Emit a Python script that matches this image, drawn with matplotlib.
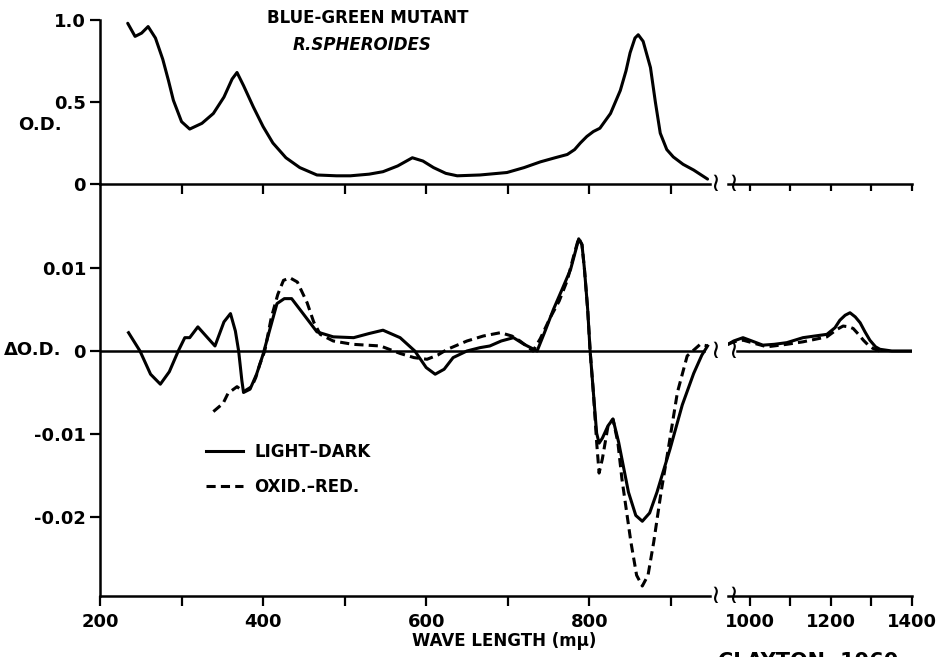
import matplotlib
matplotlib.use("Agg")
import matplotlib.pyplot as plt

# O.D. spectrum, blue-green mutant
od_wl = [234, 243, 251, 259, 268, 277, 284, 290, 300, 310, 325, 339, 352, 362, 368, 376, 388, 400,
         412, 428, 445, 466, 490, 507, 530, 547, 565, 583, 596, 609, 624, 638, 666, 699, 720, 740,
         758, 773, 782, 789, 797, 805, 813, 826, 838, 845, 850, 856, 860, 866, 875, 881, 887, 895,
         903, 915, 928, 945]
od = [0.98, 0.90, 0.92, 0.96, 0.89, 0.76, 0.63, 0.51, 0.38, 0.335, 0.37, 0.43, 0.53, 0.64, 0.68,
      0.60, 0.47, 0.35, 0.25, 0.16, 0.10, 0.055, 0.05, 0.05, 0.06, 0.075, 0.11, 0.16, 0.14, 0.10,
      0.065, 0.05, 0.055, 0.07, 0.10, 0.135, 0.16, 0.18, 0.21, 0.25, 0.29, 0.32, 0.34, 0.43, 0.57,
      0.69, 0.80, 0.89, 0.91, 0.87, 0.71, 0.50, 0.31, 0.21, 0.165, 0.12, 0.085, 0.03]

# difference spectra, visible / near-IR part
ld_wl = [235, 249, 262, 274, 285, 296, 304, 310, 320, 330, 341, 352, 360, 366, 370, 374, 376, 384,
         392, 400, 408, 417, 426, 435, 449, 466, 486, 511, 530, 547, 568, 586, 600, 611, 622, 633,
         650, 666, 678, 692, 707, 720, 736, 745, 756, 767, 777, 783, 787, 791, 794, 798, 801, 805,
         809, 812, 816, 823, 829, 836, 848, 857, 865, 874, 883, 899, 914, 928, 938, 945]
light_dark = [0.0022, 0.0, -0.0028, -0.0040, -0.0025, 0.0, 0.0016, 0.0016, 0.0029, 0.0018, 0.0006,
              0.0035, 0.0045, 0.0024, 0.0, -0.0036, -0.0050, -0.0046, -0.0028, -0.0004, 0.0025,
              0.0057, 0.0063, 0.0063, 0.0045, 0.0023, 0.0017, 0.0016, 0.0021, 0.0025, 0.0016, 0.0,
              -0.0020, -0.0028, -0.0022, -0.0008, 0.0, 0.0004, 0.0006, 0.0012, 0.0016, 0.0008, 0.0,
              0.0022, 0.0050, 0.0075, 0.0098, 0.0120, 0.0135, 0.0128, 0.0099, 0.0050, 0.0, -0.0050,
              -0.0099, -0.0111, -0.0105, -0.0090, -0.0082, -0.0110, -0.0170, -0.0198, -0.0205,
              -0.0195, -0.0170, -0.0118, -0.0065, -0.0027, -0.0005, 0.0006]

or_wl = [339, 345, 351, 357, 368, 376, 386, 391, 396, 402, 410, 418, 425, 433, 442, 454, 462, 470,
         486, 510, 544, 568, 585, 601, 614, 626, 650, 670, 691, 705, 715, 731, 740, 752, 763, 773,
         781, 787, 791, 794, 798, 801, 805, 809, 812, 816, 823, 829, 835, 840, 851, 858, 865, 872,
         879, 888, 896, 908, 920, 936, 945]
oxid_red = [-0.0073, -0.0068, -0.0063, -0.0051, -0.0043, -0.0049, -0.0043, -0.0032, -0.0016, 0.0,
            0.0040, 0.0068, 0.0085, 0.0088, 0.0083, 0.0058, 0.0035, 0.0020, 0.0012, 0.0008, 0.0006,
            -0.0003, -0.0008, -0.0010, -0.0005, 0.0002, 0.0012, 0.0018, 0.0022, 0.0018, 0.0012, 0.0,
            0.0015, 0.0040, 0.0060, 0.0085, 0.0115, 0.0136, 0.0128, 0.0099, 0.0050, 0.0, -0.0050,
            -0.0110, -0.0147, -0.0130, -0.0090, -0.0082, -0.0110, -0.0154, -0.0230, -0.0270,
            -0.0283, -0.0270, -0.0230, -0.0170, -0.0123, -0.0050, -0.0006, 0.0008, 0.0006]

# infrared part (after the axis break)
ir_wl = [946, 960, 983, 1005, 1032, 1060, 1091, 1131, 1160, 1190, 1210, 1222, 1235, 1247, 1260,
         1272, 1284, 1296, 1310, 1321, 1350, 1400]
ld_ir = [0.0008, 0.0012, 0.0016, 0.0012, 0.0007, 0.0008, 0.0010, 0.0016, 0.0018, 0.0020, 0.0028,
         0.0037, 0.0043, 0.0046, 0.0041, 0.0034, 0.0023, 0.0013, 0.0005, 0.0002, 0.0, 0.0]
or_ir_wl = [946, 960, 983, 1005, 1042, 1091, 1131, 1190, 1215, 1230, 1245, 1255, 1268, 1280,
            1292, 1304, 1320]
or_ir = [0.0008, 0.0011, 0.0013, 0.0010, 0.0005, 0.0008, 0.0011, 0.0017, 0.0026, 0.0030, 0.0029,
         0.0027, 0.0020, 0.0013, 0.0007, 0.0003, 0.0]

W, H = 949, 657
fig = plt.figure(figsize=(W / 100, H / 100), dpi=100)

LW = 2.2
AX_LW = 1.8
DASH = (3.0, 1.7)
FS = 13
plt.rcParams['font.family'] = ['DejaVu Sans']
plt.rcParams['font.weight'] = 'bold'


def fx(px):
    return px / W


def fy(py):
    return 1 - py / H


x_left, x_break, x_right0, x_right1 = 100, 710, 728, 912
y_top, y_mid, y_bot = 20, 184, 596

ax_tl = fig.add_axes([fx(x_left), fy(y_mid), fx(x_break - x_left), fy(y_top) - fy(y_mid)])
ax_tr = fig.add_axes([fx(x_right0), fy(y_mid), fx(x_right1 - x_right0), fy(y_top) - fy(y_mid)])
ax_bl = fig.add_axes([fx(x_left), fy(y_bot), fx(x_break - x_left), fy(y_mid) - fy(y_bot)])
ax_br = fig.add_axes([fx(x_right0), fy(y_bot), fx(x_right1 - x_right0), fy(y_mid) - fy(y_bot)])

for ax in (ax_tl, ax_tr, ax_bl, ax_br):
    ax.patch.set_alpha(0)
    for s in ('top', 'right'):
        ax.spines[s].set_visible(False)
    ax.spines['bottom'].set_linewidth(AX_LW)
    ax.spines['left'].set_linewidth(AX_LW)
    ax.tick_params(direction='out', length=7, width=1.6, labelsize=FS, pad=3)

for ax in (ax_tl, ax_bl):
    ax.set_xlim(200, 948)
for ax in (ax_tr, ax_br):
    ax.set_xlim(946, 1400)
    ax.spines['left'].set_visible(False)
    ax.tick_params(axis='y', left=False, labelleft=False)

ax_tl.set_ylim(0, 1.0)
ax_tr.set_ylim(0, 1.0)
ax_bl.set_ylim(-0.0295, 0.0201)
ax_br.set_ylim(-0.0295, 0.0201)

# top panel
ax_tl.plot(od_wl, od, color='black', lw=LW, solid_capstyle='round', solid_joinstyle='round')
ax_tl.set_yticks([0, 0.5, 1.0], ['0', '0.5', '1.0'])
ax_tl.set_xticks(range(300, 901, 100))
ax_tl.tick_params(axis='x', labelbottom=False)
ax_tr.set_xticks(range(1000, 1401, 100))
ax_tr.tick_params(axis='x', labelbottom=False, length=5)

# bottom panel
ax_bl.axhline(0, color='black', lw=AX_LW, xmax=0.99)
ax_br.axhline(0, color='black', lw=AX_LW, xmin=0.05)
ax_bl.plot(ld_wl, light_dark, color='black', lw=LW, solid_joinstyle='round', label='LIGHT–DARK')
ax_bl.plot(or_wl, oxid_red, color='black', lw=LW, dashes=DASH, label='OXID.–RED.')
ax_br.plot(ir_wl, ld_ir, color='black', lw=LW, solid_joinstyle='round')
ax_br.plot(or_ir_wl, or_ir, color='black', lw=LW, dashes=DASH)

ax_bl.set_yticks([0.01, 0, -0.01, -0.02], ['0.01', '0', '-0.01', '-0.02'])
ax_bl.set_xticks(range(200, 901, 100), ['200', '', '400', '', '600', '', '800', ''])
ax_bl.tick_params(axis='x', pad=5)
ax_br.set_xticks(range(1000, 1401, 100), ['1000', '', '1200', '', '1400'])
ax_br.tick_params(axis='x', pad=5)

# axis break marks
for ax, y in ((ax_tl, 0), (ax_bl, 0), (ax_bl, ax_bl.get_ylim()[0])):
    ax.text(1.0, y, '≀', transform=ax.get_yaxis_transform(), ha='left', va='center',
            fontsize=19, fontweight='normal', clip_on=False)
for ax, y in ((ax_tr, 0), (ax_br, 0), (ax_br, ax_br.get_ylim()[0])):
    ax.text(0.0, y, '≀', transform=ax.get_yaxis_transform(), ha='left', va='center',
            fontsize=19, fontweight='normal', clip_on=False)

leg = ax_bl.legend(loc='upper left', bbox_to_anchor=(fx(206), fy(443)),
                   bbox_transform=fig.transFigure, frameon=False, fontsize=12,
                   handlelength=2.2, handletextpad=0.7, labelspacing=1.0,
                   borderpad=0, borderaxespad=0)

fig.text(fx(40), fy(125), 'O.D.', fontsize=FS, ha='center', va='center')
fig.text(fx(33), fy(350), 'ΔO.D.', fontsize=FS, ha='center', va='center')
fig.text(fx(368), fy(18), 'BLUE-GREEN MUTANT', fontsize=12, ha='center', va='center')
fig.text(fx(362), fy(45), 'R.SPHEROIDES', fontsize=12, style='italic', ha='center', va='center')
fig.text(fx(504), fy(641), 'WAVE LENGTH (mμ)', fontsize=12, ha='center', va='center')
fig.text(fx(718), fy(652), 'CLAYTON, 1960', fontsize=15, ha='left', va='top')

fig.savefig('out.png', dpi=100)
